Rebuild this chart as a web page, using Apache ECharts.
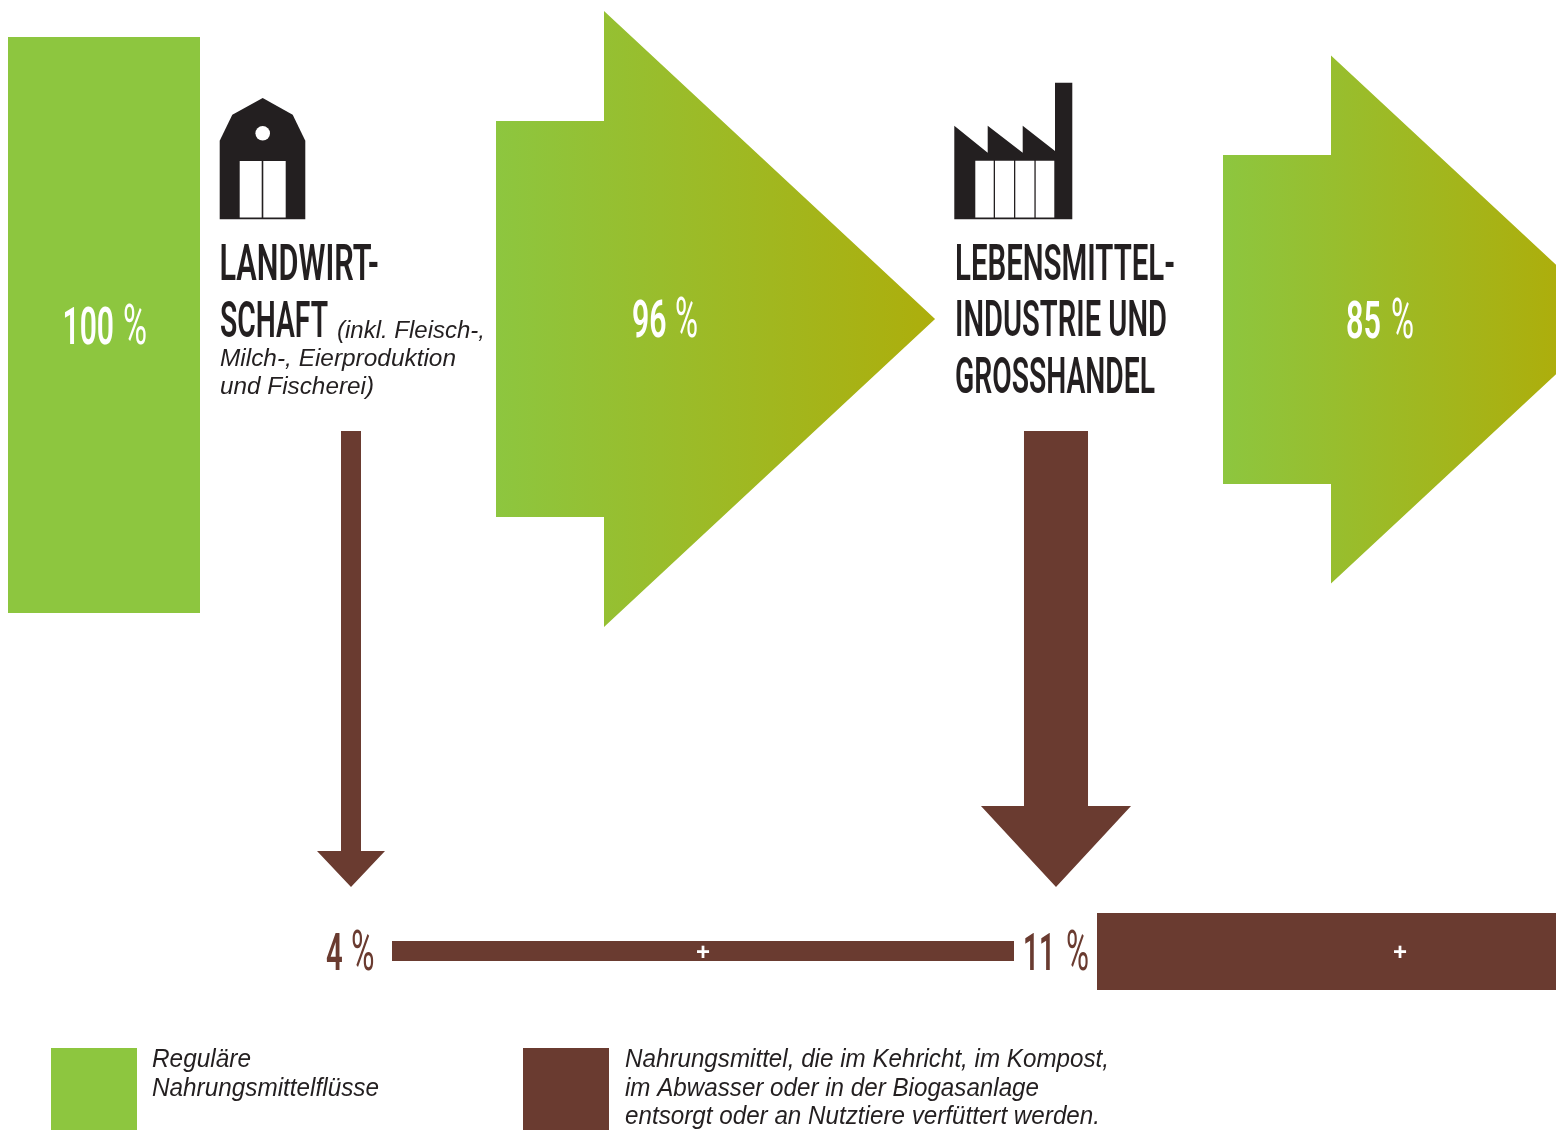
<!DOCTYPE html>
<html lang="de">
<head>
<meta charset="utf-8">
<title>Nahrungsmittelflüsse</title>
<script src="https://cdn.jsdelivr.net/npm/echarts@6/dist/echarts.min.js"></script>
<style>
  html, body { margin: 0; padding: 0; background: #fff; }
  #chart { width: 1556px; height: 1130px; }
</style>
</head>
<body>
<div id="chart"></div>
<script>
// Percentages carried along the food chain
const flowValues = [100, 96, 85];
const lossValues = [4, 11];
const lossBandValues = [4, 11];

// Wording
const stageTitles = ['LANDWIRT-', 'SCHAFT', 'LEBENSMITTEL-', 'INDUSTRIE UND', 'GROSSHANDEL'];
const stageNotes = ['(inkl. Fleisch-,', 'Milch-, Eierproduktion', 'und Fischerei)'];
const legendTexts = [
  'Reguläre', 'Nahrungsmittelflüsse',
  'Nahrungsmittel, die im Kehricht, im Kompost,',
  'im Abwasser oder in der Biogasanlage',
  'entsorgt oder an Nutztiere verfüttert werden.'
];
const legendKeys = ['food', 'waste'];

// Palette
const GREEN = '#8dc63f';
const OLIVE = '#adae0c';
const BROWN = '#6a3b30';
const INK = '#231f20';

// Placement of each mark in diagram units; thickness comes from value * perCent
const flowLayout = [
  { x0: 8, x1: 200, cy: 325, perCent: 5.76, num: [62.5, 114], pct: [123, 147], base: 343.5 },
  { x0: 496, neck: 604, cy: 319, perCent: 4.125, headPerCent: 3.208, slope: 1.075, gradEnd: 935, num: [632, 666.5], pct: [675, 698], base: 337 },
  { x0: 1223, neck: 1331, cy: 319.5, perCent: 3.87, headPerCent: 3.106, slope: 1.075, gradEnd: 1556, num: [1346, 1381], pct: [1391, 1414], base: 337.5 }
];
const lossLayout = [
  { cx: 351, top: 431, tip: 887, perCent: 5, headHalfPerCent: 8.5, headLen: 36, num: [326, 342.7], pct: [351, 374.5], base: 970 },
  { cx: 1056, top: 431, tip: 887, perCent: 5.82, headHalfPerCent: 6.82, headLen: 81, num: [1023, 1055], pct: [1066, 1089], base: 970 }
];
const bandLayout = [
  { x0: 392, x1: 1014, cy: 951, perCent: 5, plusX: 703 },
  { x0: 1097, x1: 1556, cy: 951.5, perCent: 7, plusX: 1400 }
];
const titlePlacement = [
  [219.5, 379, 280], [220, 328, 336.5], [955, 1175, 279.5], [955, 1167, 336], [955, 1155, 392.5]
];
const notePlacement = [[337, 485, 337], [220, 456, 365], [220, 374, 393]];
const legendTextPlacement = [
  [152, 251, 1066], [152, 379, 1095], [625, 1109, 1066], [625, 1039, 1095], [625, 1100, 1123]
];
const legendSwatches = [
  { x0: 51, x1: 137, fill: GREEN },
  { x0: 523, x1: 609, fill: BROWN }
];

const TITLE_FONT = '600 50px Roboto';
const NUMBER_FONT = '600 52px Roboto';
const PERCENT_FONT = '400 56px Roboto';
const NOTE_FONT = 'italic 24px "Liberation Sans"';
const LEGEND_FONT = 'italic 25px "Liberation Sans"';
const measure = document.createElement('canvas').getContext('2d');

// Text squeezed horizontally to span [x0, x1] with its baseline at the given y
function fittedText(api, str, x0, x1, baseline, font, fill) {
  const size = parseFloat(font.match(/([\d.]+)px/)[1]);
  measure.font = font;
  const p = api.coord([x0, baseline - 0.25 * size]);
  const target = api.coord([x1, baseline])[0] - p[0];
  return {
    type: 'text',
    x: p[0],
    y: p[1],
    scaleX: target / measure.measureText(str).width,
    style: { text: str, x: 0, y: 0, font, fill, align: 'left', verticalAlign: 'middle' }
  };
}

// Percentage figure: the number set heavier than its percent sign
function figure(api, v, m, fill) {
  return [
    fittedText(api, String(v), m.num[0], m.num[1], m.base, NUMBER_FONT, fill),
    fittedText(api, '%', m.pct[0], m.pct[1], m.base, PERCENT_FONT, fill)
  ];
}

function renderFlow(params, api) {
  const i = api.value(0);
  const v = api.value(1);
  const m = flowLayout[i];
  const labels = figure(api, v, m, '#fff');
  const half = v * m.perCent / 2;
  if (!m.neck) {
    const a = api.coord([m.x0, m.cy - half]);
    const b = api.coord([m.x1, m.cy + half]);
    return {
      type: 'group',
      children: [
        { type: 'rect', shape: { x: a[0], y: a[1], width: b[0] - a[0], height: b[1] - a[1] }, style: { fill: GREEN } }
      ].concat(labels)
    };
  }
  const headHalf = v * m.headPerCent;
  const tipX = m.neck + headHalf * m.slope;
  const outline = [
    [m.x0, m.cy - half], [m.neck, m.cy - half], [m.neck, m.cy - headHalf],
    [tipX, m.cy], [m.neck, m.cy + headHalf], [m.neck, m.cy + half], [m.x0, m.cy + half]
  ].map(function (q) { return api.coord(q); });
  const g0 = api.coord([m.x0, m.cy]);
  const g1 = api.coord([m.gradEnd, m.cy]);
  return {
    type: 'group',
    children: [
      {
        type: 'polygon',
        shape: { points: outline },
        style: {
          fill: new echarts.graphic.LinearGradient(g0[0], 0, g1[0], 0, [
            { offset: 0, color: GREEN }, { offset: 1, color: OLIVE }
          ], true)
        }
      }
    ].concat(labels)
  };
}

function renderLoss(params, api) {
  const i = api.value(0);
  const v = api.value(1);
  const m = lossLayout[i];
  const half = v * m.perCent / 2;
  const headHalf = v * m.headHalfPerCent;
  const neckY = m.tip - m.headLen;
  const outline = [
    [m.cx - half, m.top], [m.cx + half, m.top], [m.cx + half, neckY], [m.cx + headHalf, neckY],
    [m.cx, m.tip], [m.cx - headHalf, neckY], [m.cx - half, neckY]
  ].map(function (q) { return api.coord(q); });
  return {
    type: 'group',
    children: [
      { type: 'polygon', shape: { points: outline }, style: { fill: BROWN } }
    ].concat(figure(api, v, m, BROWN))
  };
}

function renderBand(params, api) {
  const i = api.value(0);
  const v = api.value(1);
  const m = bandLayout[i];
  const half = v * m.perCent / 2;
  const a = api.coord([m.x0, m.cy - half]);
  const b = api.coord([m.x1, m.cy + half]);
  const plus = api.coord([m.plusX, m.cy]);
  return {
    type: 'group',
    children: [
      { type: 'rect', shape: { x: a[0], y: a[1], width: b[0] - a[0], height: b[1] - a[1] }, style: { fill: BROWN } },
      { type: 'text', x: plus[0], y: plus[1] + 2, style: { text: '+', font: 'bold 24px "Liberation Sans"', fill: '#fff', align: 'center', verticalAlign: 'middle' } }
    ]
  };
}

// Pictograms for the two stages
function renderBarn(params, api) {
  const c = function (x, y) { return api.coord([x, y]); };
  const r = function (x0, y0, x1, y1, fill) {
    const a = c(x0, y0), b = c(x1, y1);
    return { type: 'rect', shape: { x: a[0], y: a[1], width: b[0] - a[0], height: b[1] - a[1] }, style: { fill } };
  };
  const centre = c(262.7, 133.3);
  return {
    type: 'group',
    children: [
      {
        type: 'polygon',
        shape: {
          points: [[262.7, 98], [292.7, 114.7], [305.3, 140.7], [305.3, 219.3], [219.7, 219.3], [219.7, 140.7], [232.3, 114.7]]
            .map(function (q) { return c(q[0], q[1]); })
        },
        style: { fill: INK }
      },
      { type: 'circle', shape: { cx: centre[0], cy: centre[1], r: 7.3 }, style: { fill: '#fff' } },
      r(239.7, 161, 261.7, 217.5, '#fff'),
      r(263.3, 161, 285.7, 217.5, '#fff')
    ]
  };
}

function renderFactory(params, api) {
  const c = function (x, y) { return api.coord([x, y]); };
  const r = function (x0, y0, x1, y1, fill) {
    const a = c(x0, y0), b = c(x1, y1);
    return { type: 'rect', shape: { x: a[0], y: a[1], width: b[0] - a[0], height: b[1] - a[1] }, style: { fill } };
  };
  return {
    type: 'group',
    children: [
      {
        type: 'polygon',
        shape: {
          points: [[954.3, 125.7], [987.7, 152.7], [987.7, 125.7], [1022.7, 152.7], [1022.7, 125.7], [1055, 151],
            [1055, 82.7], [1072.3, 82.7], [1072.3, 219.3], [954.3, 219.3]]
            .map(function (q) { return c(q[0], q[1]); })
        },
        style: { fill: INK }
      },
      r(975.3, 160.7, 993.7, 217.5, '#fff'),
      r(995, 160.7, 1014, 217.5, '#fff'),
      r(1015.3, 160.7, 1034.4, 217.5, '#fff'),
      r(1035.7, 160.7, 1054.3, 217.5, '#fff')
    ]
  };
}

function textSeries(rows, placement, font, fill) {
  return {
    type: 'custom',
    coordinateSystem: 'cartesian2d',
    silent: true,
    data: rows.map(function (t, i) { return [i]; }),
    renderItem: function (params, api) {
      const i = api.value(0);
      const p = placement[i];
      return fittedText(api, rows[i], p[0], p[1], p[2], font, fill);
    }
  };
}

const chart = echarts.init(document.getElementById('chart'), null, { renderer: 'canvas' });
chart.setOption({
  animation: false,
  backgroundColor: '#ffffff',
  tooltip: { show: false },
  grid: { left: 0, right: 0, top: 0, bottom: 0 },
  xAxis: { type: 'value', min: 0, max: 1556, show: false },
  yAxis: { type: 'value', min: 0, max: 1130, inverse: true, show: false },
  series: [
    {
      name: 'Reguläre Nahrungsmittelflüsse',
      type: 'custom',
      silent: true,
      clip: true,
      data: flowValues.map(function (v, i) { return [i, v]; }),
      renderItem: renderFlow
    },
    {
      name: 'Entsorgte Nahrungsmittel',
      type: 'custom',
      silent: true,
      data: lossValues.map(function (v, i) { return [i, v]; }),
      renderItem: renderLoss
    },
    {
      name: 'Summe',
      type: 'custom',
      silent: true,
      data: lossBandValues.map(function (v, i) { return [i, v]; }),
      renderItem: renderBand
    },
    { type: 'custom', silent: true, data: [[0]], renderItem: renderBarn },
    { type: 'custom', silent: true, data: [[0]], renderItem: renderFactory },
    {
      type: 'custom',
      silent: true,
      data: legendKeys.map(function (k, i) { return [i]; }),
      renderItem: function (params, api) {
        const s = legendSwatches[api.value(0)];
        const a = api.coord([s.x0, 1048]);
        const b = api.coord([s.x1, 1130]);
        return { type: 'rect', shape: { x: a[0], y: a[1], width: b[0] - a[0], height: b[1] - a[1] }, style: { fill: s.fill } };
      }
    },
    textSeries(stageTitles, titlePlacement, TITLE_FONT, INK),
    textSeries(stageNotes, notePlacement, NOTE_FONT, INK),
    textSeries(legendTexts, legendTextPlacement, LEGEND_FONT, INK)
  ]
});
</script>
</body>
</html>
